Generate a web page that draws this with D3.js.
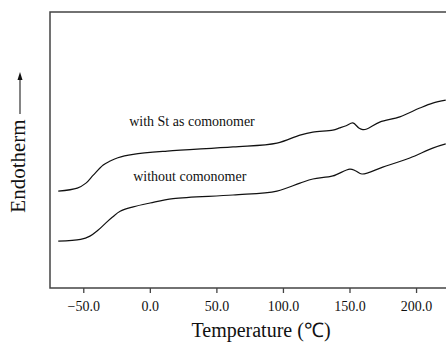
<!DOCTYPE html>
<html>
<head>
<meta charset="utf-8">
<script src="https://cdn.jsdelivr.net/npm/d3@7"></script>
<style>
  body { margin: 0; background: #fff; }
  svg { display: block; font-family: "Liberation Serif", "Times New Roman", serif; }
</style>
</head>
<body>
<div id="chart"></div>
<script>
// DSC traces (y in arbitrary heat-flow units)
const tempWithSt = [-68.8, -54.5, -48, -42.5, -35, -29.8, -24, -12.5, 13, 62.5, 95.5, 112.8, 122.5, 137.5, 142.7, 147.5, 152.5, 157, 160, 163, 172.7, 187.8, 202.8, 212.5, 222.3];
const flowWithSt = [35.1, 36.2, 38.0, 40.9, 44.6, 46.0, 47.2, 48.4, 49.6, 51.1, 52.5, 55.4, 56.5, 57.2, 58.0, 58.8, 59.8, 58.0, 57.4, 57.6, 60.1, 62.0, 65.2, 67.0, 68.1];

const tempWithout = [-68.8, -52, -45, -39, -33, -28, -22.3, -12.5, 0.2, 17.5, 62.5, 95.5, 112.8, 122.5, 137.5, 150.3, 154.8, 159.3, 175, 195.3, 212.5, 222.3];
const flowWithout = [17.0, 17.6, 18.8, 20.9, 23.6, 25.7, 27.8, 29.4, 30.8, 32.4, 33.7, 35.1, 38.0, 39.5, 40.6, 43.1, 42.4, 41.3, 43.8, 47.1, 50.7, 52.2];

const xTicks = [-50, 0, 50, 100, 150, 200];
const seriesLabels = ["with St as comonomer", "without comonomer"];

const width = 446, height = 342;
const margin = {top: 12, right: 0, bottom: 54, left: 50};

const svg = d3.select("#chart").append("svg")
    .attr("width", width)
    .attr("height", height);

const x = d3.scaleLinear()
    .domain([-75, 222.5])
    .range([margin.left, width - margin.right]);

const y = d3.scaleLinear()
    .domain([0, 100])
    .range([height - margin.bottom, margin.top]);

const line = d3.line()
    .x(d => x(d[0]))
    .y(d => y(d[1]))
    .curve(d3.curveCatmullRom.alpha(0.5));

// frame: left, top and bottom sides only
svg.append("path")
    .attr("d", "M" + width + "," + y(100) + "H" + x(-75) + "V" + y(0) + "H" + width)
    .attr("fill", "none")
    .attr("stroke", "#444")
    .attr("stroke-width", 1.5);

// bottom axis ticks and labels
const xAxis = svg.append("g")
    .attr("transform", "translate(0," + y(0) + ")")
    .call(d3.axisBottom(x).tickValues(xTicks).tickSize(5).tickPadding(8).tickFormat(d3.format(".1f")));
xAxis.select(".domain").remove();
xAxis.selectAll(".tick line").attr("stroke", "#444").attr("stroke-width", 1.3);
xAxis.selectAll(".tick text")
    .style("font-family", "'Liberation Serif', serif")
    .style("font-size", "14px")
    .attr("fill", "#111");

// the two curves
svg.append("path")
    .datum(d3.zip(tempWithSt, flowWithSt))
    .attr("fill", "none")
    .attr("stroke", "#111")
    .attr("stroke-width", 1.2)
    .attr("d", line);

svg.append("path")
    .datum(d3.zip(tempWithout, flowWithout))
    .attr("fill", "none")
    .attr("stroke", "#111")
    .attr("stroke-width", 1.2)
    .attr("d", line);

// curve labels
svg.append("text")
    .attr("x", x(-15.5))
    .attr("y", y(58.6))
    .style("font-size", "14px")
    .attr("fill", "#111")
    .text(seriesLabels[0]);

svg.append("text")
    .attr("x", x(-12.5))
    .attr("y", y(38.8))
    .style("font-size", "14px")
    .attr("fill", "#111")
    .text(seriesLabels[1]);

// axis titles
svg.append("text")
    .attr("x", 261)
    .attr("y", 337)
    .attr("text-anchor", "middle")
    .style("font-size", "20px")
    .attr("fill", "#111")
    .text("Temperature (℃)");

svg.append("text")
    .attr("transform", "translate(25,166) rotate(-90)")
    .attr("text-anchor", "middle")
    .style("font-size", "21px")
    .attr("fill", "#111")
    .text("Endotherm");

// upward arrow above the y title
svg.append("line")
    .attr("x1", 20).attr("y1", 114)
    .attr("x2", 20).attr("y2", 78)
    .attr("stroke", "#333")
    .attr("stroke-width", 1.2);
svg.append("path")
    .attr("d", "M20,72L17.5,80L22.5,80Z")
    .attr("fill", "#111");
</script>
</body>
</html>
